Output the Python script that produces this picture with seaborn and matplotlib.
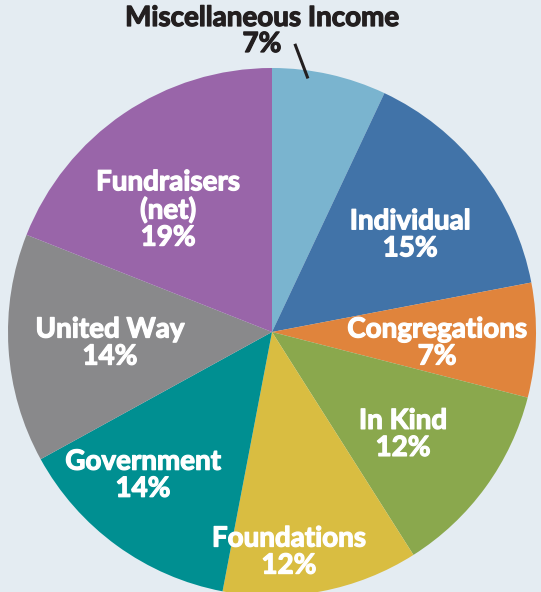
import numpy as np
import matplotlib.pyplot as plt
import matplotlib.patheffects as pe
import seaborn as sns

# Funding sources, clockwise from the top
SOURCES = ['Miscellaneous Income', 'Individual', 'Congregations', 'In Kind',
           'Foundations', 'Government', 'United Way', 'Fundraisers\n(net)']
SHARES = [7, 15, 7, 12, 12, 14, 14, 19]
COLORS = ['#7ab4cf', '#4173a8', '#e0843c', '#8aa84d',
          '#d9bd41', '#008f91', '#89898b', '#9965a9']

# label placement: fraction of radius, and angular nudge (deg, clockwise)
LABEL_R = [None, 0.64, 0.627, 0.63, 0.836, 0.73, 0.615, 0.607]
LABEL_NUDGE = [0, 2.7, 2.0, 2.0, 6.4, 6.0, -0.3, -6.2]

sns.set_theme(style='white')
plt.rcParams['font.family'] = ['Lato', 'DejaVu Sans']

BG = '#e4ecf2'
fig = plt.figure(figsize=(5.41, 5.92), dpi=100, facecolor=BG)
ax = fig.add_axes([0, 0, 1, 1])
ax.set_facecolor(BG)

cx, cy, R = 272, 260, 264
wedges, _ = ax.pie(SHARES, colors=sns.color_palette(COLORS), startangle=90,
                   counterclock=False, center=(cx, cy), radius=R,
                   wedgeprops=dict(linewidth=0))

# a thin stroke in the text colour makes the bold face a bit heavier
heavy_white = [pe.withStroke(linewidth=0.9, foreground='white')]
heavy_dark = [pe.withStroke(linewidth=0.9, foreground='#231f20')]

for w, name, share, rf, nudge in zip(wedges, SOURCES, SHARES, LABEL_R, LABEL_NUDGE):
    if rf is None:
        continue
    mid = np.deg2rad((w.theta1 + w.theta2) / 2 - nudge)
    x = cx + rf * R * np.cos(mid)
    y = cy + rf * R * np.sin(mid)
    ax.text(x, y, f'{name}\n{share}%', ha='center', va='center', color='white',
            fontsize=20, fontweight='bold', linespacing=1.05,
            path_effects=heavy_white)

# outside label for the small top slice
w0 = wedges[0]
ax.text(cx - 10, cy + R + 37, f'{SOURCES[0]}\n{SHARES[0]}%', ha='center',
        va='center', color='#231f20', fontsize=20, fontweight='bold',
        linespacing=1.0, path_effects=heavy_dark)
span = w0.theta1 - w0.theta2
a1 = np.deg2rad(w0.theta2 + span * 0.32)
a2 = np.deg2rad(w0.theta2 + span * 0.18)
ax.plot([cx + 0.97 * R * np.cos(a1), cx + 1.095 * R * np.cos(a2)],
        [cy + 0.97 * R * np.sin(a1), cy + 1.095 * R * np.sin(a2)],
        color='#231f20', lw=2.2, solid_capstyle='butt')

ax.set_xlim(0, 541)
ax.set_ylim(0, 592)
ax.set_aspect('equal')
ax.axis('off')

fig.savefig('out.png', dpi=100, facecolor=BG)
